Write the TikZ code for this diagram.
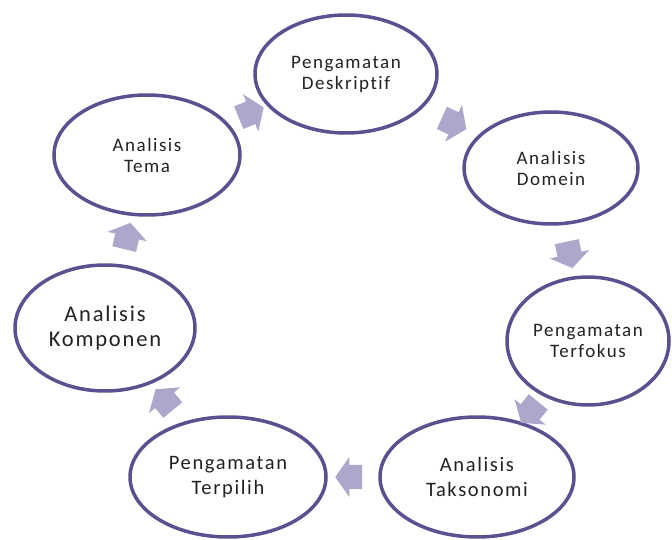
\documentclass[tikz,border=0pt]{standalone}
\usepackage{fontspec}
\setmainfont{Carlito}[LetterSpace=8, Ligatures={NoCommon}]
\usetikzlibrary{shapes.geometric,shapes.arrows}
\definecolor{ringcol}{HTML}{5E5090}
\definecolor{arrowcol}{HTML}{ABA8CC}
\definecolor{txtcol}{HTML}{222222}
\tikzset{
  stage/.style={ellipse, draw=ringcol, line width=3.5pt, fill=white,
    align=center, text=txtcol, inner sep=0pt},
  smalltxt/.style={font=\fontsize{19}{21}\selectfont},
  midtxt/.style={font=\fontsize{20.5}{25}\selectfont},
  bigtxt/.style={font=\fontsize{22.5}{25}\selectfont},
  flowarrow/.style={single arrow, fill=arrowcol, draw=none,
    inner xsep=0pt, inner ysep=12pt, text width=0pt,
    minimum height=27pt, single arrow head extend=8pt,
    single arrow tip angle=110, sloped, allow upside down, pos=0.5}
}
\begin{document}
\begin{tikzpicture}[x=1pt,y=-1pt]
  \useasboundingbox (0,0) rectangle (672,540);
  \node[stage, smalltxt, minimum width=182pt, minimum height=118pt] (desk) at (346,74) {Pengamatan\\Deskriptif};
  \node[stage, smalltxt, minimum width=174pt, minimum height=112pt] (domein) at (551,168) {Analisis\\Domein};
  \node[stage, smalltxt, minimum width=162pt, minimum height=128pt] (fokus) at (588,341) {Pengamatan\\Terfokus};
  \node[stage, midtxt, minimum width=194pt, minimum height=120pt] (takso) at (477,477) {Analisis\\Taksonomi};
  \node[stage, midtxt, minimum width=196pt, minimum height=120pt] (pilih) at (228,477) {Pengamatan\\Terpilih};
  \node[stage, bigtxt, minimum width=180pt, minimum height=126pt] (komp) at (105,328) {Analisis\\Komponen};
  \node[stage, smalltxt, minimum width=186pt, minimum height=120pt] (tema) at (147,155) {Analisis\\Tema};

  \path (tema) -- node[flowarrow] (a1) {} (desk);
  \path (desk) -- node[flowarrow] (a2) {} (domein);
  \path (domein) -- node[flowarrow] (a3) {} (fokus);
  \path (fokus) -- node[flowarrow] (a4) {} (takso);
  \path (takso) -- node[flowarrow] (a5) {} (pilih);
  \path (pilih) -- node[flowarrow] (a6) {} (komp);
  \path (komp) -- node[flowarrow] (a7) {} (tema);
\end{tikzpicture}
\end{document}
